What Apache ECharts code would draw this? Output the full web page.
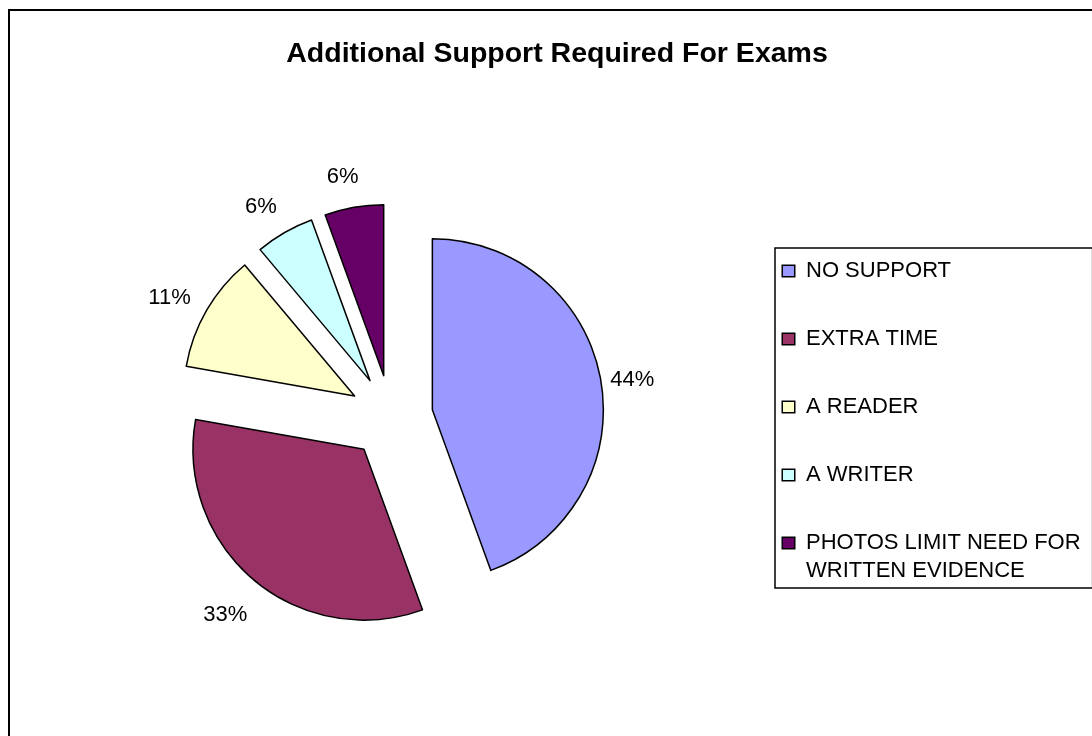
<!DOCTYPE html>
<html>
<head>
<meta charset="utf-8">
<script src="https://cdn.jsdelivr.net/npm/echarts@6/dist/echarts.min.js"></script>
<style>
  html, body { margin: 0; padding: 0; background: #fff; }
  #chart { width: 1092px; height: 736px; }
</style>
</head>
<body>
<div id="chart"></div>
<script>
// Exam support categories and the number of students in each
const categories = [
  'NO SUPPORT',
  'EXTRA TIME',
  'A READER',
  'A WRITER',
  'PHOTOS LIMIT NEED FOR\nWRITTEN EVIDENCE'
];
const counts = [8, 6, 2, 1, 1];
const sliceColors = ['#9999FF', '#993366', '#FFFFCC', '#CCFFFF', '#660066'];
const chartTitle = 'Additional Support Required For Exams';

const FONT = 'Arial, "Liberation Sans", sans-serif';
const PIE_CENTER = [391, 417];
const PIE_RADIUS = 171;
const EXPLODE = 42;
// the percentage ring sits slightly lower-left of the pie itself
const LABEL_CENTER = [PIE_CENTER[0] - 5, PIE_CENTER[1] + 6];

const pieData = categories.map((name, i) => ({
  name: name,
  value: counts[i],
  selected: true,
  itemStyle: { color: sliceColors[i] }
}));

// transparent ring just outside the pie, used only to place the percentage labels
const labelData = categories.map((name, i) => ({
  name: name,
  value: counts[i],
  selected: true,
  itemStyle: { color: 'rgba(0,0,0,0)', borderWidth: 0 }
}));

// legend swatches are drawn inline with the first text line of each entry
const legendRich = {
  gap: { width: 12, height: 10 },
  blank: { width: 11, height: 10 },
  t: { fontFamily: FONT, fontSize: 22, lineHeight: 28, color: '#000' }
};
sliceColors.forEach((c, i) => {
  legendRich['sq' + i] = {
    width: 11, height: 10,
    backgroundColor: c,
    borderColor: '#000',
    borderWidth: 1.5
  };
});

function legendLabel(name) {
  const i = categories.indexOf(name);
  return name.split('\n').map((line, k) =>
    (k === 0 ? '{sq' + i + '|}' : '{blank|}') + '{gap|}{t|' + line + '}'
  ).join('\n');
}

const chart = echarts.init(document.getElementById('chart'), null, { renderer: 'canvas' });

chart.setOption({
  animation: false,
  backgroundColor: '#ffffff',
  title: {
    text: chartTitle,
    left: 557,
    top: 40,
    textAlign: 'center',
    padding: 0,
    textStyle: { fontFamily: FONT, fontSize: 28.5, fontWeight: 'bold', color: '#000' }
  },
  legend: {
    orient: 'vertical',
    left: 775,
    top: 248,
    padding: [9, 12, 3, 3],
    itemGap: 40,
    itemWidth: 0,
    itemHeight: 0,
    icon: 'rect',
    borderColor: '#000',
    borderWidth: 1.5,
    selectedMode: false,
    data: categories,
    itemStyle: { color: 'rgba(0,0,0,0)', borderWidth: 0 },
    formatter: legendLabel,
    textStyle: {
      fontFamily: FONT,
      fontSize: 22,
      lineHeight: 28,
      color: '#000',
      rich: legendRich
    }
  },
  graphic: [{
    type: 'rect',
    shape: { x: 9, y: 10, width: 1100, height: 740 },
    style: { fill: 'none', stroke: '#000', lineWidth: 2 },
    silent: true,
    z: 100
  }],
  series: [
    {
      type: 'pie',
      center: PIE_CENTER,
      radius: PIE_RADIUS,
      startAngle: 90,
      clockwise: true,
      selectedMode: 'multiple',
      selectedOffset: EXPLODE,
      avoidLabelOverlap: false,
      silent: true,
      emphasis: { disabled: true },
      itemStyle: { borderColor: '#000', borderWidth: 1.5 },
      label: { show: false },
      labelLine: { show: false },
      data: pieData
    },
    {
      type: 'pie',
      center: LABEL_CENTER,
      radius: [PIE_RADIUS + 24, PIE_RADIUS + 44],
      startAngle: 90,
      clockwise: true,
      selectedMode: 'multiple',
      selectedOffset: EXPLODE,
      percentPrecision: 0,
      avoidLabelOverlap: false,
      silent: true,
      emphasis: { disabled: true },
      itemStyle: { borderWidth: 0 },
      label: {
        show: true,
        position: 'inside',
        formatter: '{d}%',
        fontFamily: FONT,
        fontSize: 22,
        color: '#000',
        textBorderWidth: 0
      },
      labelLine: { show: false },
      data: labelData
    }
  ]
});
</script>
</body>
</html>
